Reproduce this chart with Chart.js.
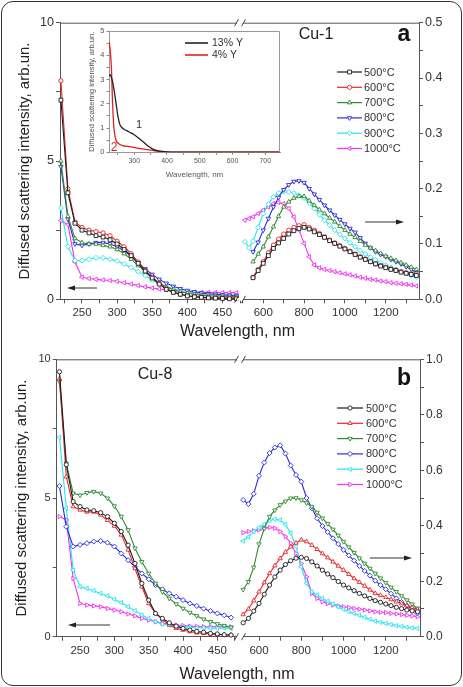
<!DOCTYPE html>
<html><head><meta charset="utf-8">
<script src="https://cdn.jsdelivr.net/npm/chart.js@4/dist/chart.umd.min.js"></script>
<style>
html,body{margin:0;padding:0;background:#fff;}
body{width:463px;height:687px;position:relative;overflow:hidden;}
.frame{position:absolute;left:1px;top:1px;width:461px;height:685px;border:1.5px solid #333;border-radius:12px;box-sizing:border-box;}
canvas{position:absolute;}
</style></head><body>
<div class="frame"></div>
<canvas id="ca" width="463" height="340" style="left:0;top:0"></canvas>
<canvas id="cb" width="463" height="347" style="left:0;top:340px"></canvas>
<canvas id="ci" width="200" height="160" style="left:85px;top:24px"></canvas>
<script>
// ---------------- DATA ----------------
const wlLeft = [220,230,240,250,260,270,280,290,300,310,320,330,340,350,360,370,380,390,400,410,420,430,440,450,460,470];
const wlRightA = [510,530,550,575,600,625,650,675,700,725,750,775,800,825,850,875,900,925,950,975,1000,1025,1050,1075,1100,1125,1150,1175,1200,1225,1250,1275,1300,1325,1350];
const wlRightB = [525,550,575,600,625,650,675,700,725,750,775,800,825,850,875,900,925,950,975,1000,1025,1050,1075,1100,1125,1150,1175,1200,1225,1250,1275,1300,1325,1350];
const tempLabels = ['500°C','600°C','700°C','800°C','900°C','1000°C'];

// Panel a (Cu-1), left part (UV), arb.un.
const a500L = [7.2,3.85,2.75,2.5,2.4,2.3,2.25,2.15,2.0,1.8,1.58,1.3,1.02,0.77,0.55,0.36,0.25,0.18,0.12,0.09,0.07,0.05,0.04,0.03,0.02,0.02];
const a600L = [7.9,4.0,2.8,2.6,2.5,2.45,2.4,2.3,2.1,1.9,1.65,1.35,1.05,0.8,0.57,0.38,0.26,0.18,0.13,0.1,0.08,0.07,0.06,0.05,0.05,0.05];
const a700L = [5.0,3.0,2.2,2.05,2.0,2.0,1.95,1.9,1.8,1.65,1.45,1.22,1.0,0.78,0.6,0.45,0.35,0.27,0.22,0.18,0.15,0.13,0.12,0.11,0.1,0.1];
const a800L = [4.8,2.9,2.0,1.95,2.0,2.05,2.05,2.0,1.9,1.75,1.55,1.32,1.1,0.9,0.72,0.58,0.47,0.38,0.32,0.27,0.23,0.2,0.18,0.16,0.15,0.14];
const a900L = [3.3,1.9,1.4,1.4,1.45,1.5,1.5,1.45,1.38,1.28,1.15,1.0,0.85,0.7,0.57,0.46,0.38,0.31,0.26,0.22,0.19,0.17,0.15,0.14,0.13,0.12];
const a1000L = [2.85,2.7,1.35,0.8,0.75,0.72,0.7,0.68,0.65,0.6,0.55,0.5,0.45,0.41,0.37,0.34,0.31,0.29,0.27,0.26,0.25,0.25,0.24,0.24,0.24,0.24];
// Panel a, right part (visible/NIR)
const a500R = [null,null,0.039,0.052,0.065,0.079,0.092,0.102,0.11,0.118,0.124,0.128,0.13,0.127,0.122,0.117,0.112,0.106,0.101,0.096,0.091,0.086,0.081,0.076,0.072,0.068,0.064,0.06,0.057,0.054,0.052,0.049,0.047,0.045,0.043];
const a600R = [null,null,0.04,0.054,0.068,0.084,0.098,0.109,0.118,0.125,0.13,0.133,0.135,0.13,0.125,0.119,0.113,0.107,0.102,0.097,0.092,0.087,0.082,0.077,0.073,0.068,0.064,0.061,0.058,0.055,0.053,0.05,0.048,0.046,0.044];
const a700R = [null,null,0.068,0.082,0.095,0.113,0.131,0.15,0.167,0.176,0.183,0.186,0.186,0.178,0.17,0.162,0.155,0.147,0.14,0.132,0.125,0.118,0.112,0.105,0.098,0.093,0.088,0.083,0.078,0.074,0.07,0.066,0.062,0.058,0.054];
const a800R = [null,null,0.086,0.103,0.125,0.146,0.167,0.184,0.198,0.207,0.213,0.214,0.211,0.2,0.19,0.18,0.17,0.161,0.152,0.144,0.136,0.128,0.121,0.111,0.101,0.093,0.086,0.081,0.077,0.072,0.068,0.064,0.059,0.054,0.048];
const a900R = [0.104,0.093,0.105,0.13,0.155,0.172,0.185,0.192,0.195,0.194,0.192,0.188,0.183,0.174,0.164,0.153,0.143,0.134,0.125,0.117,0.11,0.102,0.095,0.088,0.082,0.076,0.071,0.066,0.062,0.058,0.054,0.05,0.047,0.043,0.04];
const a1000R = [0.143,0.146,0.149,0.155,0.161,0.167,0.173,0.175,0.173,0.164,0.149,0.125,0.101,0.077,0.062,0.057,0.054,0.052,0.05,0.048,0.046,0.044,0.042,0.04,0.038,0.036,0.035,0.033,0.032,0.03,0.029,0.028,0.027,0.026,0.024];

// Panel b (Cu-8), left part
const b500L = [9.55,6.2,4.87,4.69,4.57,4.54,4.47,4.33,4.09,3.79,3.3,2.64,1.92,1.32,0.84,0.66,0.5,0.38,0.3,0.24,0.19,0.16,0.12,0.1,0.07,0.06];
const b600L = [9.3,5.77,4.69,4.57,4.5,4.5,4.39,4.2,3.99,3.67,3.13,2.46,1.8,1.2,0.84,0.62,0.42,0.3,0.24,0.19,0.14,0.12,0.1,0.08,0.07,0.06];
const b700L = [9.2,6.25,5.17,5.1,5.19,5.23,5.17,4.99,4.71,4.33,3.85,3.19,2.7,2.28,1.92,1.62,1.38,1.18,1.02,0.87,0.75,0.63,0.54,0.46,0.4,0.34];
const b800L = [5.43,3.97,3.25,3.31,3.37,3.43,3.45,3.39,3.25,3.0,2.76,2.52,2.28,2.07,1.86,1.71,1.56,1.44,1.32,1.2,1.11,1.01,0.93,0.84,0.77,0.69];
const b900L = [7.19,4.63,2.4,1.8,1.74,1.66,1.56,1.47,1.35,1.23,1.08,0.94,0.78,0.66,0.54,0.46,0.42,0.38,0.36,0.34,0.32,0.32,0.31,0.31,0.31,0.3];
const b1000L = [4.33,4.21,2.1,1.2,1.14,1.11,1.08,1.02,0.96,0.9,0.82,0.75,0.66,0.6,0.54,0.48,0.46,0.42,0.4,0.38,0.37,0.36,0.36,0.36,0.36,0.36];
// Panel b, right part
const b500R = [0.05,0.066,0.092,0.12,0.153,0.186,0.215,0.24,0.26,0.274,0.283,0.286,0.282,0.27,0.255,0.24,0.226,0.213,0.199,0.186,0.176,0.166,0.156,0.147,0.138,0.13,0.124,0.118,0.112,0.106,0.101,0.096,0.093,0.09];
const b600R = [0.08,0.1,0.13,0.162,0.195,0.228,0.256,0.282,0.305,0.324,0.338,0.349,0.343,0.33,0.315,0.3,0.285,0.27,0.255,0.24,0.225,0.21,0.196,0.183,0.169,0.156,0.149,0.142,0.134,0.126,0.119,0.112,0.105,0.099];
const b700R = [0.17,0.198,0.25,0.334,0.39,0.433,0.456,0.475,0.488,0.499,0.5,0.493,0.482,0.469,0.448,0.427,0.407,0.387,0.365,0.343,0.323,0.303,0.283,0.264,0.246,0.228,0.211,0.195,0.178,0.162,0.147,0.132,0.117,0.102];
const b800R = [0.493,0.478,0.515,0.58,0.628,0.662,0.682,0.69,0.66,0.617,0.583,0.559,0.5,0.463,0.427,0.399,0.377,0.355,0.334,0.313,0.293,0.274,0.255,0.237,0.22,0.202,0.186,0.171,0.155,0.138,0.125,0.112,0.098,0.084];
const b900R = [0.345,0.36,0.379,0.393,0.405,0.418,0.424,0.421,0.405,0.373,0.325,0.252,0.192,0.162,0.15,0.138,0.128,0.118,0.108,0.099,0.091,0.084,0.077,0.07,0.063,0.056,0.052,0.048,0.044,0.04,0.037,0.034,0.032,0.03];
const b1000R = [0.375,0.379,0.382,0.385,0.391,0.394,0.391,0.379,0.361,0.337,0.3,0.264,0.216,0.156,0.138,0.126,0.12,0.114,0.111,0.108,0.105,0.102,0.099,0.096,0.093,0.09,0.088,0.087,0.084,0.082,0.08,0.077,0.075,0.072];

// Inset (panel a)
const insetWl = [223,226,230,234,238,242,246,250,256,262,270,280,290,300,310,320,330,340,350,360,370,380,390,400,420,450,500,600,700,745];
const inset13Y = [3.15,3.2,3.1,2.9,2.6,2.25,1.88,1.5,1.15,1.02,0.94,0.87,0.8,0.72,0.62,0.51,0.4,0.28,0.19,0.11,0.07,0.04,0.03,0.02,0.01,0.01,0.01,0.01,0.01,0.01];
const inset4Y = [4.55,4.3,3.6,2.0,1.0,0.62,0.45,0.38,0.32,0.29,0.26,0.24,0.22,0.2,0.17,0.15,0.13,0.11,0.09,0.07,0.05,0.04,0.03,0.02,0.01,0.01,0.01,0.01,0.01,0.01];
const insetLabels = ['13% Y','4% Y'];

// ---------------- STYLE ----------------
const FONT = "'Liberation Sans', Arial, Helvetica, sans-serif";
const COLORS = ['#1c1c1c','#e8262a','#2e8b2e','#2a2ad8','#26e2f0','#f032f0'];
const STYLES_A = [['rect',0,2.7],['circle',0,2.1],['triangle',0,2.5],['triangle',180,2.5],['rectRot',0,2.5],['triangle',270,2.5]];
const STYLES_B = [['circle',0,2.1],['triangle',0,2.5],['triangle',180,2.5],['rectRot',0,2.5],['triangle',270,2.5],['triangle',90,2.5]];

function pts(xs, ys){ return xs.map((x,i)=>({x:x, y:ys[i]})); }

function mkDs(xs, ys, i, styles, xid, yid, legend){
  const s = styles[i];
  return {label: tempLabels[i], data: pts(xs, ys), xAxisID: xid, yAxisID: yid,
    borderColor: COLORS[i], backgroundColor: '#ffffff', borderWidth: 1.1,
    pointStyle: s[0], pointRotation: s[1], pointRadius: s[2], pointBorderWidth: 0.9,
    pointBackgroundColor: '#ffffff', pointBorderColor: COLORS[i],
    tension: 0, fill: false, legendEntry: legend, clip: 6};
}

function drawMarker(ctx, style, rot, r, x, y, color){
  ctx.save();
  ctx.strokeStyle = color; ctx.fillStyle = '#fff'; ctx.lineWidth = 0.9;
  if (window.Chart && Chart.helpers && Chart.helpers.drawPoint){
    Chart.helpers.drawPoint(ctx, {pointStyle: style, rotation: rot, radius: r, borderWidth: 0.9}, x, y);
  } else {
    ctx.beginPath(); ctx.arc(x, y, r, 0, Math.PI*2); ctx.fill(); ctx.stroke();
  }
  ctx.restore();
}

function arrow(ctx, x1, y, x2){
  const dir = Math.sign(x2 - x1);
  ctx.save();
  ctx.strokeStyle = '#333'; ctx.fillStyle = '#222'; ctx.lineWidth = 1;
  ctx.beginPath(); ctx.moveTo(x1, y); ctx.lineTo(x2 - dir*6, y); ctx.stroke();
  ctx.beginPath(); ctx.moveTo(x2, y); ctx.lineTo(x2 - dir*8, y - 2.6); ctx.lineTo(x2 - dir*8, y + 2.6); ctx.closePath(); ctx.fill();
  ctx.restore();
}

const decoPlugin = {
  id: 'deco',
  afterDraw(chart, args, o){
    const ctx = chart.ctx, ca = chart.chartArea;
    ctx.save();
    // top frame line
    ctx.strokeStyle = '#555'; ctx.lineWidth = 1;
    ctx.beginPath(); ctx.moveTo(ca.left, ca.top + 0.5); ctx.lineTo(ca.right, ca.top + 0.5); ctx.stroke();
    // axis break marks
    const xb = chart.scales.xL.right;
    [ca.top, ca.bottom].forEach(yy => {
      ctx.fillStyle = '#fff';
      ctx.fillRect(xb - 3, yy - 1.5, 6, 3);
      ctx.strokeStyle = '#444'; ctx.lineWidth = 1;
      ctx.beginPath();
      ctx.moveTo(xb - 5.5, yy + 3.5); ctx.lineTo(xb - 1.5, yy - 3.5);
      ctx.moveTo(xb + 1.5, yy + 3.5); ctx.lineTo(xb + 5.5, yy - 3.5);
      ctx.stroke();
    });
    // arrows
    o.arrows.forEach(a => arrow(ctx, a[0], a[1], a[2]));
    // texts
    ctx.textAlign = 'center'; ctx.textBaseline = 'middle';
    o.texts.forEach(t => { ctx.font = t.font; ctx.fillStyle = t.color || '#222'; ctx.fillText(t.text, t.x, t.y); });
    // legend
    const L = o.legend;
    let row = 0;
    chart.data.datasets.forEach(ds => {
      if (!ds.legendEntry) return;
      const y = L.y0 + row * L.dy;
      ctx.strokeStyle = ds.borderColor; ctx.lineWidth = 1.2;
      ctx.beginPath(); ctx.moveTo(L.x1, y); ctx.lineTo(L.x2, y); ctx.stroke();
      drawMarker(ctx, ds.pointStyle, ds.pointRotation, ds.pointRadius, (L.x1 + L.x2)/2, y, ds.borderColor);
      ctx.fillStyle = '#333'; ctx.font = L.font; ctx.textAlign = 'left'; ctx.textBaseline = 'middle';
      ctx.fillText(ds.label, L.tx, y + 0.5);
      row++;
    });
    ctx.restore();
  }
};

function tickFont(sz){ return {family: FONT, size: sz}; }

function panel(id, P){
  const ds = [];
  for (let i = 0; i < 6; i++) ds.push(mkDs(wlLeft, P.left[i], i, P.styles, 'xL', 'yL', false));
  for (let i = 0; i < 6; i++) ds.push(mkDs(P.wlR, P.right[i], i, P.styles, 'xR', 'yR', true));
  const axisCommon = () => ({
    grid: {display: true, drawOnChartArea: false, drawTicks: true, tickLength: 4, color: '#555'},
    border: {display: true, color: '#555', width: 1},
  });
  return new Chart(document.getElementById(id), {
    type: 'line',
    data: {datasets: ds},
    options: {
      responsive: false, animation: false, devicePixelRatio: 1,
      layout: {padding: {top: P.top, right: 0, left: 0, bottom: 0}},
      plugins: {legend: {display: false}, tooltip: {enabled: false}, title: {display: false}, deco: P.deco},
      scales: {
        xL: Object.assign(axisCommon(), {type: 'linear', position: 'bottom', stack: 'xs', stackWeight: P.wL,
          min: P.xLmin, max: P.xLmax,
          afterFit: s => { s.height = P.xH; },
          ticks: {stepSize: 25, autoSkip: false, includeBounds: false, maxRotation: 0, padding: 3,
            font: tickFont(11.5), color: '#333', callback: v => (v % 50 === 0 ? String(v) : '')}}),
        xR: Object.assign(axisCommon(), {type: 'linear', position: 'bottom', stack: 'xs', stackWeight: P.wR,
          min: P.xRmin, max: P.xRmax,
          afterFit: s => { s.height = P.xH; },
          ticks: {stepSize: 100, autoSkip: false, includeBounds: false, maxRotation: 0, padding: 3,
            font: tickFont(11.5), color: '#333', callback: v => (v % 200 === 0 ? String(v) : '')}}),
        yL: Object.assign(axisCommon(), {type: 'linear', position: 'left', min: 0, max: 10,
          afterFit: s => { s.width = P.lw; },
          ticks: {stepSize: 2.5, autoSkip: false, padding: 2, font: tickFont(P.lfs), color: '#333',
            callback: v => (v % 5 === 0 ? String(v) : '')},
          title: {display: true, text: 'Diffused scattering intensity, arb.un.', color: '#222',
            font: {family: FONT, size: 15}, padding: {top: P.titlePad, bottom: 0}}}),
        yR: Object.assign(axisCommon(), {type: 'linear', position: 'right', min: 0, max: P.rmax,
          afterFit: s => { s.width = P.rw; },
          ticks: {stepSize: P.rstep, autoSkip: false, padding: 2, font: tickFont(P.rfs), color: '#333',
            callback: v => { const t = Math.round(v / P.rstep); return (t % 2 === 0) ? v.toFixed(1) : ''; }}}),
      }
    },
    plugins: [decoPlugin]
  });
}

// Panel a
panel('ca', {
  left: [a500L, a600L, a700L, a800L, a900L, a1000L],
  right: [a500R, a600R, a700R, a800R, a900R, a1000R],
  wlR: wlRightA, styles: STYLES_A,
  top: 22.7, xH: 40.7, lw: 60, rw: 44, wL: 180, wR: 179,
  xLmin: 218.7, xLmax: 475, xRmin: 486, xRmax: 1363,
  rmax: 0.5, rstep: 0.05, lfs: 12.5, rfs: 12.5, titlePad: 16,
  deco: {
    arrows: [[97, 288, 67], [365, 222, 404]],
    texts: [
      {text: 'Cu-1', x: 316, y: 35, font: '16px ' + FONT},
      {text: 'a', x: 404, y: 35, font: 'bold 23px ' + FONT, color: '#111'},
      {text: 'Wavelength, nm', x: 237.5, y: 332, font: '16px ' + FONT},
    ],
    legend: {x1: 337, x2: 362, tx: 364, y0: 72, dy: 15.3, font: '11px ' + FONT}
  }
});

// Panel b
panel('cb', {
  left: [b500L, b600L, b700L, b800L, b900L, b1000L],
  right: [b500R, b600R, b700R, b800R, b900R, b1000R],
  wlR: wlRightB, styles: STYLES_B,
  top: 19.3, xH: 50.3, lw: 56.7, rw: 43, wL: 183.3, wR: 180,
  xLmin: 216, xLmax: 483, xRmin: 510, xRmax: 1362,
  rmax: 1.0, rstep: 0.1, lfs: 11, rfs: 12, titlePad: 13,
  deco: {
    arrows: [[110, 285, 68], [370, 218, 412]],
    texts: [
      {text: 'Cu-8', x: 155, y: 35, font: '16px ' + FONT},
      {text: 'b', x: 404, y: 39, font: 'bold 23px ' + FONT, color: '#111'},
      {text: 'Wavelength, nm', x: 237, y: 335, font: '16px ' + FONT},
    ],
    legend: {x1: 337, x2: 363, tx: 366, y0: 68, dy: 15.3, font: '11px ' + FONT}
  }
});

// Inset
const insetDeco = {
  id: 'insetDeco',
  afterDraw(chart){
    const ctx = chart.ctx, ca = chart.chartArea;
    ctx.save();
    ctx.strokeStyle = '#999'; ctx.lineWidth = 1;
    ctx.beginPath(); ctx.moveTo(ca.left, ca.top + 0.5); ctx.lineTo(ca.right - 0.5, ca.top + 0.5); ctx.lineTo(ca.right - 0.5, ca.bottom); ctx.stroke();
    const cols = ['#222', '#e02020'];
    insetLabels.forEach((lab, i) => {
      const y = 19 + i * 12;
      ctx.strokeStyle = cols[i]; ctx.lineWidth = 1.6;
      ctx.beginPath(); ctx.moveTo(100, y); ctx.lineTo(123, y); ctx.stroke();
      ctx.fillStyle = '#333'; ctx.font = '10.5px ' + FONT; ctx.textAlign = 'left'; ctx.textBaseline = 'middle';
      ctx.fillText(lab, 127, y + 0.5);
    });
    ctx.textAlign = 'center';
    ctx.font = '11px ' + FONT; ctx.fillStyle = '#333'; ctx.fillText('1', 54, 101);
    ctx.font = '12px ' + FONT; ctx.fillStyle = '#e02020'; ctx.fillText('2', 29, 124);
    ctx.restore();
  }
};
new Chart(document.getElementById('ci'), {
  type: 'line',
  data: {datasets: [
    {label: insetLabels[0], data: pts(insetWl, inset13Y), borderColor: '#222', borderWidth: 1.3, pointRadius: 0, tension: 0.3, fill: false},
    {label: insetLabels[1], data: pts(insetWl, inset4Y), borderColor: '#e02020', borderWidth: 1.3, pointRadius: 0, tension: 0.3, fill: false},
  ]},
  options: {
    responsive: false, animation: false, devicePixelRatio: 1,
    layout: {padding: {top: 7, right: 5, left: 0, bottom: 0}},
    plugins: {legend: {display: false}, tooltip: {enabled: false}},
    scales: {
      x: {type: 'linear', position: 'bottom', min: 223, max: 745,
        afterFit: s => { s.height = 31.7; },
        grid: {display: true, drawOnChartArea: false, tickLength: 2.5, color: '#888'},
        border: {display: true, color: '#999', width: 1},
        ticks: {stepSize: 50, autoSkip: false, includeBounds: false, maxRotation: 0, padding: 2,
          font: {family: FONT, size: 7}, color: '#555', callback: v => (v % 100 === 0 ? String(v) : '')},
        title: {display: true, text: 'Wavelength, nm', color: '#555', font: {family: FONT, size: 8}, padding: {top: 0, bottom: 4}}},
      y: {type: 'linear', position: 'left', min: 0, max: 5,
        afterFit: s => { s.width = 24; },
        grid: {display: true, drawOnChartArea: false, tickLength: 2.5, color: '#888'},
        border: {display: true, color: '#999', width: 1},
        ticks: {stepSize: 0.5, autoSkip: false, padding: 2, font: {family: FONT, size: 7.5}, color: '#555',
          callback: v => (v % 1 === 0 ? String(v) : '')},
        title: {display: true, text: 'Diffused scattering intensity, arb.un.', color: '#555', font: {family: FONT, size: 7.6}, padding: {top: 2, bottom: 0}}}
    }
  },
  plugins: [insetDeco]
});
</script>
</body></html>
